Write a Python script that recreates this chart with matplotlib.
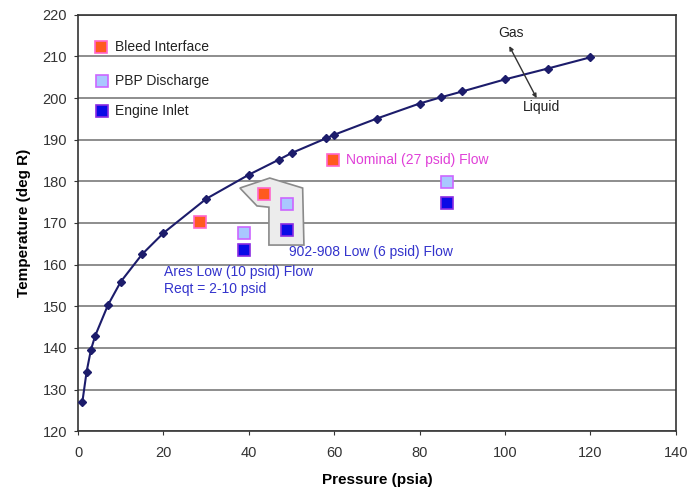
import matplotlib
matplotlib.use("Agg")
import matplotlib.pyplot as plt
from matplotlib.patches import Polygon

plt.rcParams["font.family"] = ["Liberation Sans", "DejaVu Sans"]

# saturation curve
sat_p = [1, 2, 3, 4, 7, 10, 15, 20, 30, 40, 47, 50, 58, 60, 70, 80, 85, 90, 100, 110, 120]
sat_t = [127, 134.3, 139.5, 142.9, 150.3, 155.9, 162.5, 167.6, 175.8, 181.6, 185.2, 186.8,
         190.3, 191.2, 195.1, 198.7, 200.2, 201.6, 204.5, 207.1, 209.8]

# operating points
bleed_p = [28.5, 43.5, 59.6]
bleed_t = [170.3, 177.0, 185.1]
pbp_p = [38.8, 48.9, 86.3]
pbp_t = [167.6, 174.6, 179.9]
inlet_p = [38.8, 48.9, 86.3]
inlet_t = [163.5, 168.4, 174.9]

# shaded region outline
region_p = [37.9, 44.9, 52.6, 52.9, 44.7, 44.7, 41.9]
region_t = [178.4, 180.8, 178.4, 164.7, 164.7, 173.8, 174.1]

fig = plt.figure(figsize=(6.91, 4.95), dpi=100)
ax = fig.add_axes([0.113, 0.129, 0.865, 0.841])

ax.set_xlim(0, 140)
ax.set_ylim(120, 220)
ax.set_xticks(range(0, 141, 20))
ax.set_yticks(range(120, 221, 10))
ax.yaxis.grid(True, color="#7a7a7a", linewidth=1.2)
ax.set_axisbelow(True)
for s in ax.spines.values():
    s.set_color("#333333")
    s.set_linewidth(1.2)
ax.tick_params(labelsize=10.5, colors="#333333", length=3, direction="out")
ax.tick_params(axis="x", pad=8)
ax.tick_params(axis="y", pad=5)
ax.set_xlabel("Pressure (psia)", fontsize=11, fontweight="bold", labelpad=9)
ax.set_ylabel("Temperature (deg R)", fontsize=11, fontweight="bold", labelpad=8)

ax.add_patch(Polygon(list(zip(region_p, region_t)), closed=True,
                     facecolor="#ececec", edgecolor="#8a8a8a", linewidth=1.2, zorder=2))

ax.plot(sat_p, sat_t, color="#1c1c6b", linewidth=1.5, marker="D", markersize=4.5,
        markerfacecolor="#1c1c6b", markeredgecolor="#1c1c6b", zorder=3)

sq = dict(marker="s", markersize=9, linestyle="none", markeredgewidth=1.2, zorder=4)
ax.plot(bleed_p, bleed_t, color="#ff5a1e", markeredgecolor="#ff66cc", **sq)
ax.plot(pbp_p, pbp_t, color="#a9c8ff", markeredgecolor="#cc66ff", **sq)
ax.plot(inlet_p, inlet_t, color="#0a0ae6", markeredgecolor="#8a2be2", **sq)

# legend drawn inside the axes
ax.plot([5.4], [212.3], color="#ff5a1e", markeredgecolor="#ff66cc", **sq)
ax.plot([5.6], [204.0], color="#a9c8ff", markeredgecolor="#cc66ff", **sq)
ax.plot([5.6], [196.8], color="#0a0ae6", markeredgecolor="#8a2be2", **sq)
ax.text(8.6, 212.3, "Bleed Interface", fontsize=10, va="center", color="#222222")
ax.text(8.6, 204.0, "PBP Discharge", fontsize=10, va="center", color="#222222")
ax.text(8.6, 196.8, "Engine Inlet", fontsize=10, va="center", color="#222222")

ax.text(62.8, 185.1, "Nominal (27 psid) Flow", fontsize=10, va="center", color="#e040d8")
ax.text(49.4, 163.0, "902-908 Low (6 psid) Flow", fontsize=10, va="center", color="#3333cc")
ax.text(20.2, 159.8, "Ares Low (10 psid) Flow\nReqt = 2-10 psid", fontsize=10, va="top",
        color="#3333cc", linespacing=1.25)

ax.text(101.5, 215.6, "Gas", fontsize=10, ha="center", va="center", color="#222222")
ax.text(108.6, 197.8, "Liquid", fontsize=10, ha="center", va="center", color="#222222")
ax.annotate("", xy=(101.0, 212.5), xytext=(107.4, 200.0),
            arrowprops=dict(arrowstyle="<|-|>", color="#333333", lw=1.0,
                            mutation_scale=6, shrinkA=0, shrinkB=0))

fig.savefig("out.png", dpi=100)
